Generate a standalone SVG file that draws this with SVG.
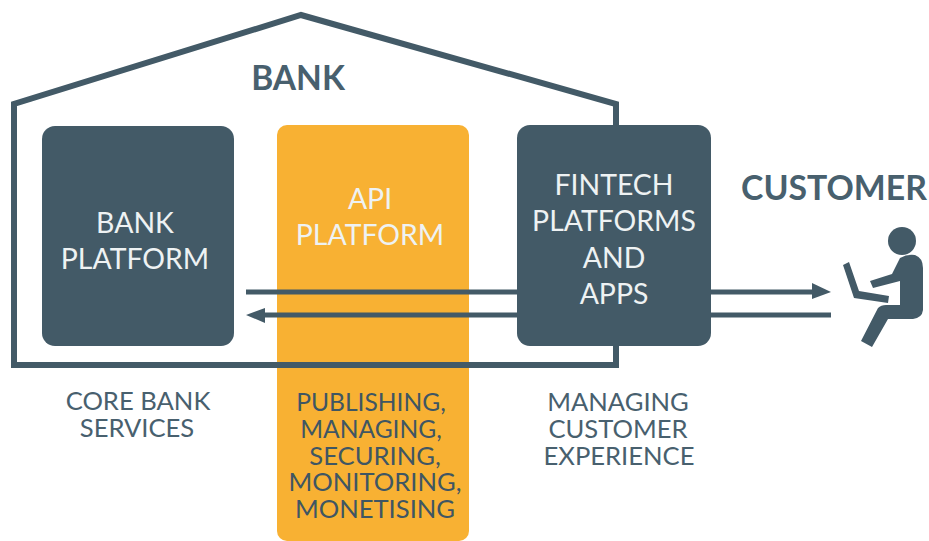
<svg xmlns="http://www.w3.org/2000/svg" width="929" height="541" viewBox="0 0 929 541">
<style>
.t{font-family:Lato,"Open Sans","Liberation Sans",sans-serif;text-anchor:middle}
.w{fill:#eef2f3;font-size:28.4px}
.d{fill:#48606e;font-size:25.6px}
.c{fill:#3f5663;font-size:24.6px}
.e{fill:#3f5663;font-size:25.6px}
.h{fill:#48606e;font-weight:700}
.l{stroke:#435a67;stroke-width:5;fill:none}
.a{fill:#435a67}
.p{fill:#435a67}
</style>
<rect width="929" height="541" fill="#ffffff"/>
<g id="api-platform">
<rect x="277" y="125" width="192" height="416" rx="10" fill="#f8b133"/>
<text class="t w" x="370" y="209">API</text>
<text class="t w" x="370" y="245">PLATFORM</text>
<text class="t c" x="371" y="411">PUBLISHING,</text>
<text class="t c" x="371" y="438">MANAGING,</text>
<text class="t e" x="375" y="465">SECURING,</text>
<text class="t e" x="375" y="491">MONITORING,</text>
<text class="t e" x="375" y="518">MONETISING</text>
</g>
<g id="bank">
<path d="M14 365V104L301 15L616 104V365Z" fill="none" stroke="#435a67" stroke-width="6"/>
<text class="t h" x="298" y="90" font-size="33.5">BANK</text>
</g>
<g id="connectors">
<path class="l" d="M246 292H820"/>
<path class="a" d="M812 283L831 292L812 299Z"/>
<path class="l" d="M258 315H831"/>
<path class="a" d="M265 308L246 315L265 323Z"/>
</g>
<g id="bank-platform">
<rect x="42" y="126" width="192" height="220" rx="13" fill="#435a67"/>
<text class="t w" x="135" y="233">BANK</text>
<text class="t w" x="135" y="269">PLATFORM</text>
</g>
<g id="fintech">
<rect x="517" y="125" width="194" height="221" rx="13" fill="#435a67"/>
<text class="t w" x="614" y="195">FINTECH</text>
<text class="t w" x="614" y="231">PLATFORMS</text>
<text class="t w" x="614" y="268">AND</text>
<text class="t w" x="614" y="304">APPS</text>
</g>
<g id="customer">
<text class="t h" x="834" y="200" font-size="33.8">CUSTOMER</text>
<circle cx="902" cy="241" r="14" class="p"/>
<path class="p" d="M900 258Q907 254 915 255Q923 258 923 268V310Q922 318 913 319H888L872 347L861 341L878 308Q881 305 886 305H900V281L873 288L870 281L892 274Z"/>
<path class="p" d="M843 265L849 262L859 291L889 296L888 303L854 298Z"/>
</g>
<g id="captions">
<text class="t d" x="138" y="410">CORE BANK</text>
<text class="t d" x="137" y="437">SERVICES</text>
<text class="t d" x="618" y="411">MANAGING</text>
<text class="t d" x="618" y="438">CUSTOMER</text>
<text class="t d" x="619" y="465">EXPERIENCE</text>
</g>
</svg>
